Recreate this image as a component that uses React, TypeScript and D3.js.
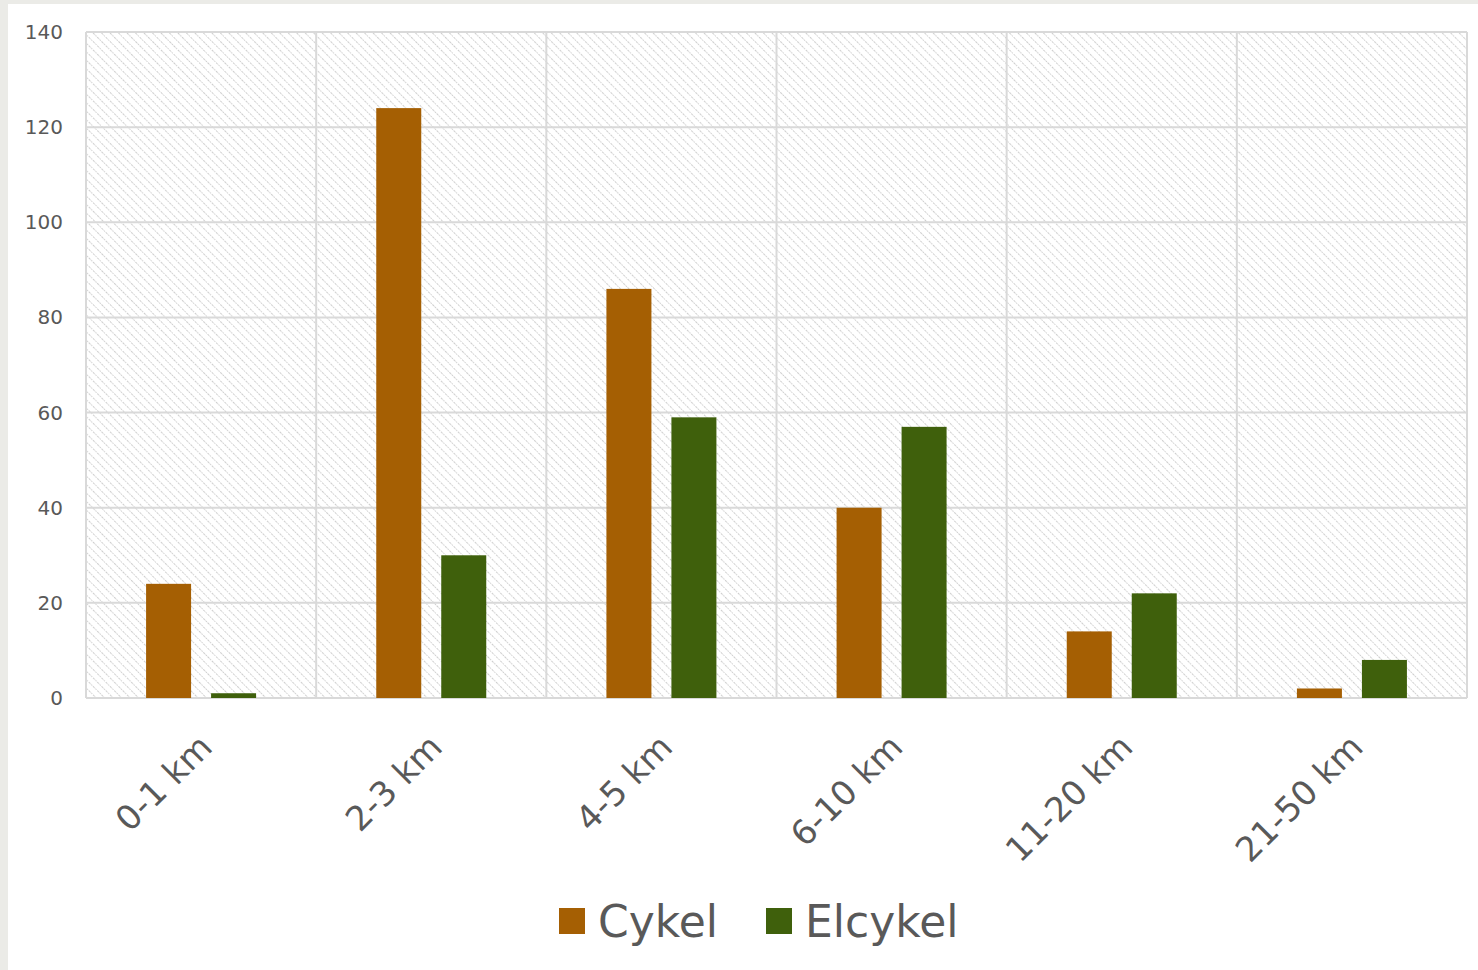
import React from 'react';
import * as d3 from 'd3';

const categories = ['0-1 km', '2-3 km', '4-5 km', '6-10 km', '11-20 km', '21-50 km'];
const cykel = [24, 124, 86, 40, 14, 2];
const elcykel = [1, 30, 59, 57, 22, 8];
const yTicks = [0, 20, 40, 60, 80, 100, 120, 140];
const seriesNames = ['Cykel', 'Elcykel'];
const colors = ['#a55f03', '#3f600c'];

const W = 1478;
const H = 970;
const plot = { left: 86, right: 1467, top: 32, bottom: 698 };
const font = "'DejaVu Sans', sans-serif";

const App = () => {
  const x = d3.scaleBand<string>().domain(categories).range([plot.left, plot.right]);
  // 45px bars, 20px gap between the pair
  const inner = d3.scaleBand<string>().domain(seriesNames).range([0, 110]).paddingInner(20 / 65);
  const y = d3.scaleLinear().domain([0, 140]).range([plot.bottom, plot.top]);
  const series = [cykel, elcykel];
  const gridColor = '#d9d9d9';

  return (
    <svg width={W} height={H} style={{ position: 'absolute', left: 0, top: 0 }}>
      <defs>
        <pattern id="hatch" width="6" height="6" patternUnits="userSpaceOnUse" patternTransform="rotate(-45)">
          <rect width="6" height="6" fill="#ffffff" />
          <line x1="0" y1="0" x2="0" y2="6" stroke="#cfcfcf" strokeWidth="2" strokeDasharray="1.5 1" />
        </pattern>
      </defs>
      <rect width={W} height={H} fill="#ebebe7" />
      <rect x={8} y={4} width={W - 8} height={H - 4} fill="#ffffff" />
      <rect x={plot.left} y={plot.top} width={plot.right - plot.left} height={plot.bottom - plot.top} fill="url(#hatch)" />

      {yTicks.map((t) => (
        <line key={'h' + t} x1={plot.left} x2={plot.right} y1={y(t)} y2={y(t)} stroke={gridColor} strokeWidth={2} />
      ))}
      {d3.range(categories.length + 1).map((i) => {
        const xx = plot.left + i * x.step();
        return <line key={'v' + i} x1={xx} x2={xx} y1={plot.top} y2={plot.bottom} stroke={gridColor} strokeWidth={2} />;
      })}

      {yTicks.map((t) => (
        <text key={'t' + t} x={63} y={y(t)} dy="0.35em" textAnchor="end" fontFamily={font} fontSize={20} fill="#595959">
          {t}
        </text>
      ))}

      {categories.map((c, i) => {
        const base = (x(c) ?? 0) + (x.bandwidth() - 110) / 2;
        return (
          <g key={c}>
            {series.map((s, j) => (
              <rect
                key={j}
                x={base + (inner(seriesNames[j]) ?? 0)}
                width={inner.bandwidth()}
                y={y(s[i])}
                height={y(0) - y(s[i])}
                fill={colors[j]}
              />
            ))}
          </g>
        );
      })}

      {categories.map((c) => {
        const cx = (x(c) ?? 0) + x.bandwidth() / 2 - 5;
        const cy = 731;
        return (
          <text
            key={'x' + c}
            transform={`translate(${cx},${cy}) rotate(-45)`}
            textAnchor="end"
            dy="0.75em"
            fontFamily={font}
            fontSize={34}
            fill="#595959"
          >
            {c}
          </text>
        );
      })}

      {seriesNames.map((n, j) => {
        const lx = [559, 766][j];
        return (
          <g key={n}>
            <rect x={lx} y={908} width={26} height={26} fill={colors[j]} />
            <text x={lx + 39} y={937} fontFamily={font} fontSize={44} fill="#595959">
              {n}
            </text>
          </g>
        );
      })}
    </svg>
  );
};

export default App;
